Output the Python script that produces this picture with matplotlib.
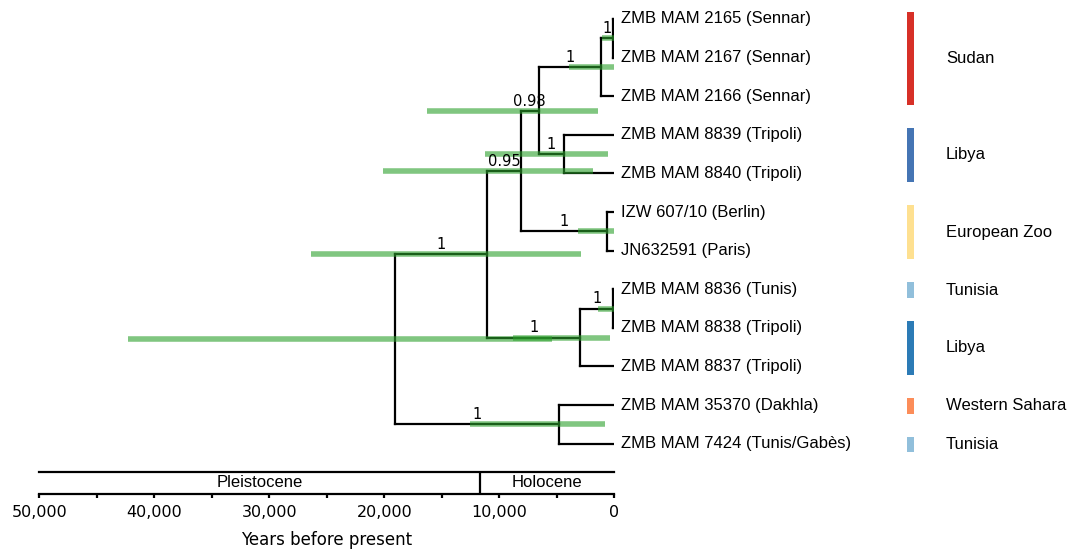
import numpy as np
import matplotlib.pyplot as plt
from matplotlib.ticker import FuncFormatter, MultipleLocator

# tips, top to bottom (all sampled at present)
leaf_names = ['ZMB MAM 2165 (Sennar)', 'ZMB MAM 2167 (Sennar)', 'ZMB MAM 2166 (Sennar)',
              'ZMB MAM 8839 (Tripoli)', 'ZMB MAM 8840 (Tripoli)', 'IZW 607/10 (Berlin)',
              'JN632591 (Paris)', 'ZMB MAM 8836 (Tunis)', 'ZMB MAM 8838 (Tripoli)',
              'ZMB MAM 8837 (Tripoli)', 'ZMB MAM 35370 (Dakhla)', 'ZMB MAM 7424 (Tunis/Gabès)']

# internal nodes, children first; ints are tip indices
node_names = ['A', 'B', 'E', 'C', 'F', 'D', 'I', 'H', 'G', 'J', 'R']
node_children = [(0, 1), ('A', 2), (3, 4), ('B', 'E'), (5, 6), ('C', 'F'),
                 (7, 8), ('I', 9), ('D', 'H'), (10, 11), ('G', 'J')]
node_age = [100, 1200, 4430, 6600, 610, 8170, 100, 2960, 11040, 4780, 19040]
hpd_low = [0, 0, 600, 1390, 0, 1900, 0, 350, 2870, 780, 5390]
hpd_high = [1050, 3950, 11300, 16260, 3130, 20100, 1400, 8780, 26350, 12520, 42260]
posterior = ['1', '1', '1', '0.98', '1', '0.95', '1', '1', '1', '1', '']

region_names = ['Sudan', 'Libya', 'European Zoo', 'Tunisia', 'Libya', 'Western Sahara', 'Tunisia']
region_first = [1, 4, 6, 8, 9, 11, 12]
region_last = [3, 5, 7, 8, 10, 11, 12]
region_colors = ['#d73027', '#4575b4', '#fee090', '#91bfdb', '#2c7bb6', '#fc8d59', '#91bfdb']

epoch_names = ['Pleistocene', 'Holocene']
epoch_start = [50000, 11700]
epoch_end = [11700, 0]

fig = plt.figure(figsize=(10.69, 5.49), dpi=100)
ax = fig.add_axes([0.0369, 0.1566, 0.5379, 0.8434])
ax.set_xlim(50000, 0)
ax.set_ylim(12.5, 0.508)
ax.axis('off')

# layout
ypos = {i: i + 1 for i in range(len(leaf_names))}
age = {i: 0 for i in range(len(leaf_names))}
parent = {}
for name, kids, a in zip(node_names, node_children, node_age):
    ypos[name] = np.mean([ypos[k] for k in kids])
    age[name] = a
    for k in kids:
        parent[k] = name

lw = 1.6
for name, kids in zip(node_names, node_children):
    ys = [ypos[k] for k in kids]
    ax.plot([age[name], age[name]], [min(ys), max(ys)], color='black', lw=lw, solid_capstyle='projecting')
    for k in kids:
        ax.plot([age[name], age[k]], [ypos[k], ypos[k]], color='black', lw=lw, solid_capstyle='projecting')

for name, lo, hi, pp in zip(node_names, hpd_low, hpd_high, posterior):
    ax.plot([lo, hi], [ypos[name], ypos[name]], color='#2ca02c', alpha=0.6, lw=4, solid_capstyle='butt', zorder=5)
    if pp and name in parent:
        xm = (age[parent[name]] + age[name]) / 2
        ax.annotate(pp, (xm, ypos[name]), xytext=(0, 1.5), textcoords='offset points',
                    ha='center', va='bottom', fontsize=10.5, family='DejaVu Sans', zorder=6)

for i, nm in enumerate(leaf_names):
    ax.annotate(nm, (0, ypos[i]), xytext=(5, 0), textcoords='offset points',
                ha='left', va='center', fontsize=12, family='Liberation Sans', annotation_clip=False)

# geographic origin bars
axr = fig.add_axes([0.842, 0.1566, 0.158, 0.8434], sharey=ax)
axr.set_xlim(0, 1)
axr.axis('off')
for nm, f, l, c in zip(region_names, region_first, region_last, region_colors):
    b0, b1 = f - 0.18, l + 0.22
    axr.bar(0.062, b1 - b0, bottom=b0, width=0.042, color=c)
    axr.text(0.272, (b0 + b1) / 2, nm, ha='left', va='center', fontsize=12, family='Liberation Sans')

# time scale
axt = fig.add_axes([0.0369, 0.1002, 0.5379, 0.0401])
axt.set_xlim(50000, 0)
axt.set_ylim(0, 1)
for s in ['left', 'right']:
    axt.spines[s].set_visible(False)
for s in ['top', 'bottom']:
    axt.spines[s].set_linewidth(1.6)
axt.set_yticks([])
axt.xaxis.set_major_locator(MultipleLocator(10000))
axt.xaxis.set_minor_locator(MultipleLocator(5000))
axt.xaxis.set_major_formatter(FuncFormatter(lambda v, p: f'{int(v):,}'))
axt.tick_params(axis='x', which='both', direction='out', length=3, width=1.6, pad=5, labelsize=11.5)
axt.axvline(epoch_start[1], color='black', lw=1.6)
for nm, a0, a1 in zip(epoch_names, epoch_start, epoch_end):
    axt.text((a0 + a1) / 2, 0.5, nm, ha='center', va='center', fontsize=12, family='Liberation Sans')
axt.set_xlabel('Years before present', fontsize=12, labelpad=8)

fig.savefig('out.png', dpi=100)
